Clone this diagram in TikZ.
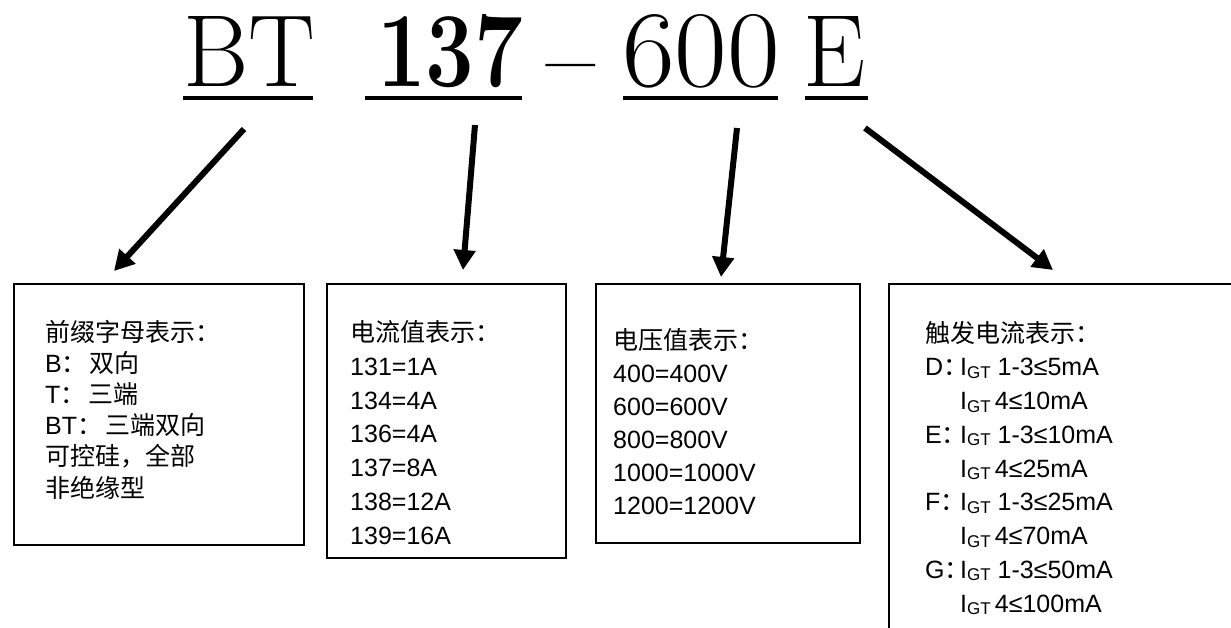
\documentclass[tikz,border=0pt]{standalone}
\usepackage{fontspec}
\newfontfamily\boxfont{Liberation Sans}
\newfontfamily\cjk{Noto Sans CJK SC}
\usetikzlibrary{arrows.meta}
\newcommand\IGT{I\raisebox{-2.5pt}{\fontsize{17}{17}\selectfont GT}}
\tikzset{
  titletext/.style={anchor=base, inner sep=0pt, font=\fontsize{102}{102}\selectfont},
  uline/.style={line width=4pt},
  infobox/.style={draw, line width=2.5pt, inner sep=0pt, fill=white},
  boxtext/.style={anchor=base west, inner sep=0pt, align=left},
  pointer/.style={line width=6pt, -{Triangle[length=20pt,width=21pt]}}
}
\begin{document}
\begin{tikzpicture}[x=1pt,y=-1pt]
\useasboundingbox (0,0) rectangle (1231,628);
\clip (0,0) rectangle (1231,628);
\fill[white] (0,0) rectangle (1231,628);

% title
\node[titletext] (bt) at (249,87) {\resizebox{132pt}{70pt}{BT}};
\node[titletext] (num) at (450,87) {\resizebox{146pt}{72pt}{\bfseries 137}};
\node[titletext] (dash) at (571,87) {\raisebox{-17pt}{\scalebox{1.04}[1.4]{–}}};
\node[titletext] (volt) at (701,87) {\resizebox{158pt}{72pt}{600}};
\node[titletext] (trig) at (834,87) {\resizebox{62pt}{70pt}{E}};
\draw[uline] (183,98) -- (313,98);
\draw[uline] (365,98) -- (522,98);
\draw[uline] (623,98) -- (778,98);
\draw[uline] (805,98) -- (868,98);

% boxes
\node[infobox, minimum width=290pt, minimum height=261pt] (box1) at (159,414.5) {};
\node[infobox, minimum width=239pt, minimum height=274pt] (box2) at (446.5,421) {};
\node[infobox, minimum width=264pt, minimum height=259pt] (box3) at (728,413.5) {};
\node[infobox, minimum width=361pt, minimum height=366pt] (box4) at (1069.5,467) {};

% the base anchor of a multi-line node is the baseline of its last line
\node[boxtext, font=\boxfont\fontsize{25}{31.2}\selectfont] (t1) at (45,497) {%
{\cjk 前缀字母表示：}\\
B{\cjk ：}\hspace{3pt}{\cjk 双向}\\
T{\cjk ：}\hspace{3pt}{\cjk 三端}\\
BT{\cjk ：}\hspace{3pt}{\cjk 三端双向}\\
{\cjk 可控硅，全部}\\
{\cjk 非绝缘型}};

\node[boxtext, font=\boxfont\fontsize{25}{33.7}\selectfont] (t2) at (350,544) {%
{\cjk 电流值表示：}\\
131=1A\\
134=4A\\
136=4A\\
137=8A\\
138=12A\\
139=16A};

\node[boxtext, font=\boxfont\fontsize{25}{33}\selectfont] (t3) at (613,514) {%
{\cjk 电压值表示：}\\
400=400V\\
600=600V\\
800=800V\\
1000=1000V\\
1200=1200V};

\node[boxtext, font=\boxfont\fontsize{25}{33.75}\selectfont] (t4) at (925,612) {%
{\cjk 触发电流表示：}\\
\makebox[35pt][l]{D{\cjk ：}}\IGT\ 1-3≤5mA\\
\hspace*{35pt}\IGT\,4≤10mA\\
\makebox[35pt][l]{E{\cjk ：}}\IGT\ 1-3≤10mA\\
\hspace*{35pt}\IGT\,4≤25mA\\
\makebox[35pt][l]{F{\cjk ：}}\IGT\ 1-3≤25mA\\
\hspace*{35pt}\IGT\,4≤70mA\\
\makebox[35pt][l]{G{\cjk ：}}\IGT\ 1-3≤50mA\\
\hspace*{35pt}\IGT\,4≤100mA};

% arrows
\coordinate (s1) at (244,129); \coordinate (e1) at (114,271);
\coordinate (s2) at (475,125); \coordinate (e2) at (463,270);
\coordinate (s3) at (737,128); \coordinate (e3) at (721,277);
\coordinate (s4) at (865,128); \coordinate (e4) at (1053,270);
\draw[pointer] (s1) -- (e1);
\draw[pointer] (s2) -- (e2);
\draw[pointer] (s3) -- (e3);
\draw[pointer] (s4) -- (e4);
\end{tikzpicture}
\end{document}
